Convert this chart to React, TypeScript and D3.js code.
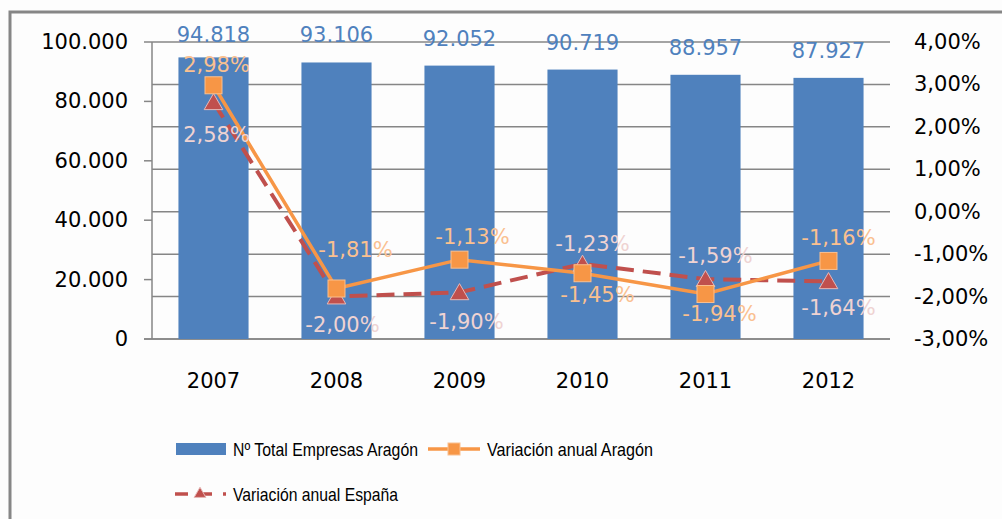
import React from "react";
import * as d3 from "d3";

const years = ["2007", "2008", "2009", "2010", "2011", "2012"];
const empresas = [94818, 93106, 92052, 90719, 88957, 87927];
const varAragon = [2.98, -1.81, -1.13, -1.45, -1.94, -1.16];
const varEspana = [2.58, -2.0, -1.9, -1.23, -1.59, -1.64];
const leftTicks = [0, 20000, 40000, 60000, 80000, 100000];
const rightTicks = [-3, -2, -1, 0, 1, 2, 3, 4];

// label offsets (styling), relative to the markers
const aragonLabelOffset = [
  [3, -20], [19, -39], [13, -23], [15, 22], [14, 20], [10, -23],
];
const espanaLabelOffset = [
  [3, 33], [6, 28], [7, 30], [10, -20], [10, -23], [10, 27],
];

const W = 1002;
const H = 519;
const plot = { left: 152, right: 890, top: 42, bottom: 339 };

const fmtThousands = (v: number) =>
  v === 0 ? "0" : d3.format(",")(v).replace(/,/g, ".");
const fmtPct = (v: number) => v.toFixed(2).replace(".", ",") + "%";

export default function App() {
  const x = d3.scaleBand<string>().domain(years).range([plot.left, plot.right]).padding(0);
  const step = x.step();
  const barW = step * 0.57;
  const cx = (y: string) => (x(y) as number) + step / 2;
  const yL = d3.scaleLinear().domain([0, 100000]).range([plot.bottom, plot.top]);
  const yR = d3.scaleLinear().domain([-3, 4]).range([plot.bottom, plot.top]);

  const lineGen = d3
    .line<number>()
    .x((_, i) => cx(years[i]))
    .y((d) => yR(d));

  const tickFont = "DejaVu Sans, sans-serif";
  const grid = "#868686";
  const orange = "#F79646";
  const red = "#C0504D";
  const blue = "#4F81BD";
  const tri = d3.symbol().type(d3.symbolTriangle).size(150)() as string;

  return (
    <svg width={W} height={H} style={{ position: "absolute", left: 0, top: 0, background: "#fdfdfd" }}>
      <rect x={0} y={0} width={W} height={H} fill="#fdfdfd" />
      <rect x={10} y={12} width={1100} height={600} fill="none" stroke={grid} strokeWidth={3} />

      {/* gridlines (right axis) */}
      {rightTicks.map((t) => (
        <line key={"g" + t} x1={plot.left} x2={plot.right} y1={yR(t)} y2={yR(t)} stroke={grid} strokeWidth={1.5} />
      ))}

      {/* left axis */}
      <line x1={plot.left} x2={plot.left} y1={plot.top} y2={plot.bottom} stroke={grid} strokeWidth={1.5} />
      {leftTicks.map((t) => (
        <g key={"l" + t}>
          <line x1={plot.left - 8} x2={plot.left} y1={yL(t)} y2={yL(t)} stroke={grid} strokeWidth={1.5} />
          <text x={128} y={yL(t)} textAnchor="end" dominantBaseline="central" fontFamily={tickFont} fontSize={21} fill="#000">
            {fmtThousands(t)}
          </text>
        </g>
      ))}
      <line x1={plot.left - 8} x2={plot.right} y1={plot.bottom} y2={plot.bottom} stroke={grid} strokeWidth={1.5} />

      {/* right axis labels */}
      {rightTicks.map((t) => (
        <text key={"r" + t} x={914} y={yR(t)} textAnchor="start" dominantBaseline="central" fontFamily={tickFont} fontSize={21} fill="#000">
          {fmtPct(t)}
        </text>
      ))}

      {/* bars */}
      {empresas.map((v, i) => (
        <rect key={"b" + i} x={cx(years[i]) - barW / 2} y={yL(v)} width={barW} height={plot.bottom - yL(v)} fill={blue} />
      ))}
      {empresas.map((v, i) => (
        <text key={"bl" + i} x={cx(years[i])} y={Math.max(yL(v) - 27, 35)} textAnchor="middle" dominantBaseline="central" fontFamily={tickFont} fontSize={21} fill={blue}>
          {fmtThousands(v)}
        </text>
      ))}

      {/* x labels */}
      {years.map((yv) => (
        <text key={"x" + yv} x={cx(yv)} y={381} textAnchor="middle" dominantBaseline="central" fontFamily={tickFont} fontSize={21} fill="#000">
          {yv}
        </text>
      ))}

      {/* España line */}
      <path d={lineGen(varEspana) as string} fill="none" stroke={red} strokeWidth={4} strokeDasharray="18,9" />
      {/* Aragón line */}
      <path d={lineGen(varAragon) as string} fill="none" stroke={orange} strokeWidth={3.5} />

      {varEspana.map((v, i) => (
        <path key={"t" + i} d={tri} transform={`translate(${cx(years[i])},${yR(v) + 2})`} fill={red} stroke="#E6B9B8" strokeWidth={1} />
      ))}
      {varAragon.map((v, i) => (
        <rect key={"s" + i} x={cx(years[i]) - 8.5} y={yR(v) - 8.5} width={17} height={17} fill={orange} stroke="#FAC090" strokeWidth={1} />
      ))}

      {varAragon.map((v, i) => (
        <text key={"al" + i} x={cx(years[i]) + aragonLabelOffset[i][0]} y={yR(v) + aragonLabelOffset[i][1]} textAnchor="middle" dominantBaseline="central" fontFamily={tickFont} fontSize={21} fill="#FAC090">
          {fmtPct(v)}
        </text>
      ))}
      {varEspana.map((v, i) => (
        <text key={"el" + i} x={cx(years[i]) + espanaLabelOffset[i][0]} y={yR(v) + espanaLabelOffset[i][1]} textAnchor="middle" dominantBaseline="central" fontFamily={tickFont} fontSize={21} fill="#EFD3D2">
          {fmtPct(v)}
        </text>
      ))}

      {/* legend */}
      <g fontFamily="Liberation Sans, sans-serif" fontSize={19} fill="#000">
        <rect x={176} y={443} width={50} height={12} fill={blue} />
        <text x={233} y={449} dominantBaseline="central" textLength={185} lengthAdjust="spacingAndGlyphs">Nº Total Empresas Aragón</text>
        <line x1={428} x2={480} y1={449} y2={449} stroke={orange} strokeWidth={3.5} />
        <rect x={448} y={443} width={12} height={12} fill={orange} stroke="#FAC090" strokeWidth={1} />
        <text x={487} y={449} dominantBaseline="central" textLength={166} lengthAdjust="spacingAndGlyphs">Variación anual Aragón</text>
        <line x1={175} x2={226} y1={494} y2={494} stroke={red} strokeWidth={3.5} strokeDasharray="13,11" />
        <path d={d3.symbol().type(d3.symbolTriangle).size(60)() as string} transform="translate(200,494)" fill={red} stroke="#E6B9B8" strokeWidth={1} />
        <text x={233} y={494} dominantBaseline="central" textLength={165} lengthAdjust="spacingAndGlyphs">Variación anual España</text>
      </g>
    </svg>
  );
}
